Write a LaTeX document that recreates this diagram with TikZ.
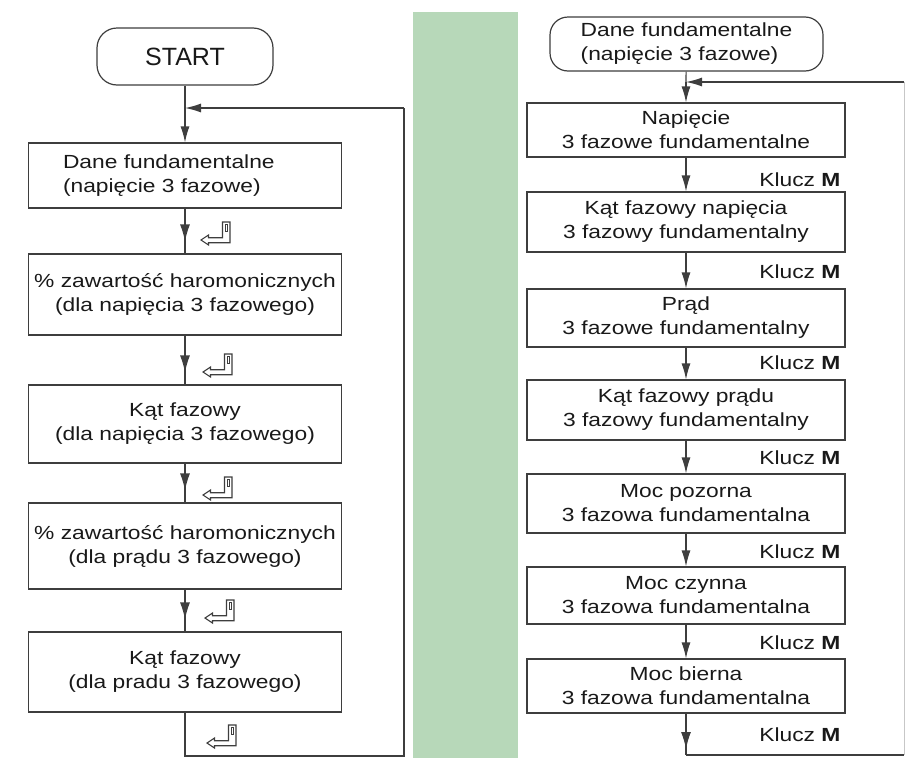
\documentclass[tikz,border=0pt]{standalone}
\usepackage{fontspec}
\setmainfont[FakeStretch=1.2]{Liberation Sans}
\newfontfamily\startfont{Liberation Sans}
\usetikzlibrary{arrows.meta,decorations.markings}

\definecolor{bandgreen}{RGB}{183,216,185}
\definecolor{linegray}{RGB}{62,62,62}
\definecolor{textgray}{RGB}{25,25,25}

\tikzset{
  enterkey/.pic={
    \draw[line width=1.1pt, line join=miter] (0,0) -- (7.5,-5) -- (7.5,-2.3) -- (21.5,-2.3) -- (21.5,-18)
      -- (29,-18) -- (29,2.7) -- (7.5,2.7) -- (7.5,5) -- cycle;
    \draw[line width=0.8pt] (24,-16) rectangle (26.5,-9);
  }
}

\begin{document}
\begin{tikzpicture}[x=1pt, y=-1pt, line width=1.2pt, color=linegray,
    every node/.style={text=textgray, font=\fontsize{19}{24}\selectfont},
    term/.style={draw, rounded corners=#1, inner sep=0pt, align=left},
    lbox/.style={draw, minimum width=313, inner sep=0pt, align=center},
    rbox/.style={draw, minimum width=318, inner sep=0pt, align=center},
    keylabel/.style={anchor=east, inner sep=0pt},
    flow/.style={-{Latex[length=16pt,width=9pt]}},
    midarrow/.style={postaction={decorate}, decoration={markings,
      mark=at position -#1 with {\arrow{Latex[length=17pt,width=10pt]}}}},
    faintline/.style={draw=black!22, line width=1pt}]
  \useasboundingbox (0,0) rectangle (906,758);
  \fill[bandgreen] (413,12) rectangle (518,758);

  % Left chart:
  \node[term=20pt, minimum width=176, minimum height=57, align=center,
    font=\startfont\fontsize{25}{30}\selectfont] (start) at (185,56.5) {START};
  \node[lbox, minimum height=65, text width=244, align=left] (b1) at (185,175.5) {Dane fundamentalne\\(napięcie 3 fazowe)};
  \node[lbox, minimum height=81] (b2) at (185,294.5) {\% zawartość haromonicznych\\(dla napięcia 3 fazowego)};
  \node[lbox, minimum height=78] (b3) at (185,424) {Kąt fazowy\\(dla napięcia 3 fazowego)};
  \node[lbox, minimum height=86] (b4) at (185,546) {\% zawartość haromonicznych\\(dla prądu 3 fazowego)};
  \node[lbox, minimum height=80] (b5) at (185,672) {Kąt fazowy\\(dla pradu 3 fazowego)};

  \coordinate (ljoin) at (185,108);
  \coordinate (lbot) at (185,756);
  \coordinate (lbotR) at (404,756);
  \coordinate (ltopR) at (404,108);

  \draw (start) -- (ljoin);
  \draw[flow] (ljoin) -- (b1);
  \foreach \a/\b in {b1/b2, b2/b3, b3/b4, b4/b5}
    \draw[midarrow=12pt] (\a) -- (\b);
  \draw[line join=miter] (b5) -- (lbot) -- (lbotR) -- (ltopR);
  \draw[flow] (ltopR) -- (ljoin);

  \pic at (201,240) {enterkey};
  \pic at (203,372) {enterkey};
  \pic at (203,495) {enterkey};
  \pic at (205,618) {enterkey};
  \pic at (207,743) {enterkey};

  % Right chart:
  \node[term=18pt, minimum width=273, minimum height=54] (rstart) at (686.5,44) {Dane fundamentalne\\(napięcie 3 fazowe)};
  \node[rbox, minimum height=54] (r1) at (686,130) {Napięcie\\3 fazowe fundamentalne};
  \node[rbox, minimum height=60] (r2) at (686,222) {Kąt fazowy napięcia\\3 fazowy fundamentalny};
  \node[rbox, minimum height=58] (r3) at (686,318) {Prąd\\3 fazowe fundamentalny};
  \node[rbox, minimum height=60] (r4) at (686,410) {Kąt fazowy prądu\\3 fazowy fundamentalny};
  \node[rbox, minimum height=59] (r5) at (686,503.5) {Moc pozorna\\3 fazowa fundamentalna};
  \node[rbox, minimum height=57] (r6) at (686,595.5) {Moc czynna\\3 fazowa fundamentalna};
  \node[rbox, minimum height=54] (r7) at (686,686) {Moc bierna\\3 fazowa fundamentalna};

  \foreach \y [count=\i] in {180,272,363,458,552,643,735}
    \node[keylabel] (k\i) at (841,\y) {Klucz \textbf{M}};

  \coordinate (rjoin) at (686,82);
  \coordinate (rbot) at (686,755);
  \coordinate (rbotR) at (904,755);
  \coordinate (rtopR) at (904,82);

  \draw (rstart) -- (rjoin);
  \draw[flow] (rjoin) -- (r1);
  \foreach \a/\b in {r1/r2, r2/r3, r3/r4, r4/r5, r5/r6, r6/r7}
    \draw[flow] (\a) -- (\b);
  \draw[midarrow=6pt] (r7) -- (rbot);
  \draw (rbot) -- (rbotR);
  \draw[faintline] (rbotR) -- (rtopR);
  \draw[flow] (rtopR) -- (rjoin);
\end{tikzpicture}
\end{document}
